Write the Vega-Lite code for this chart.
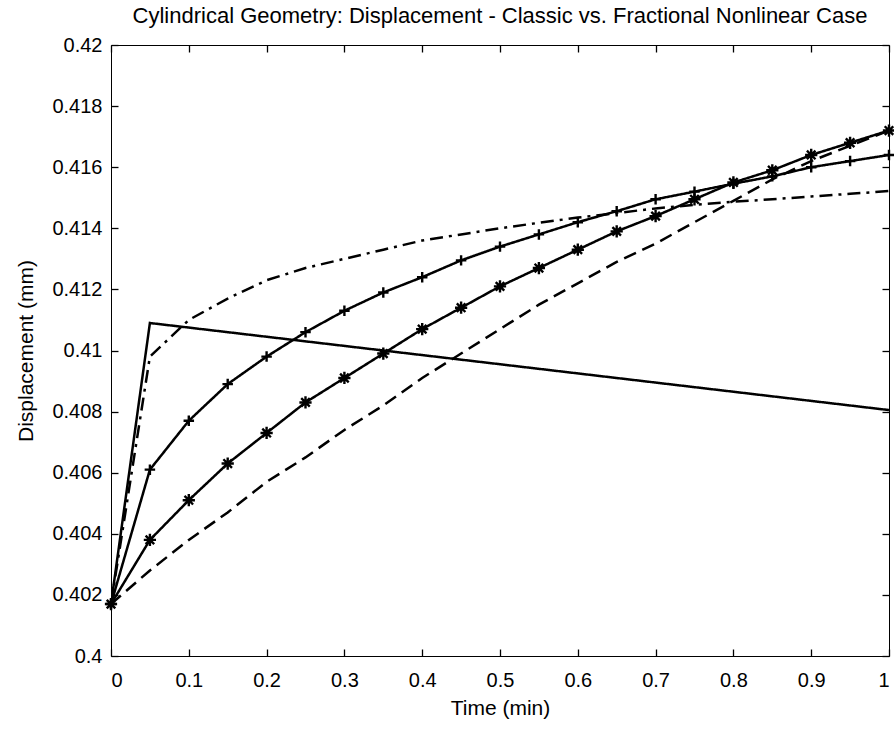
{
  "$schema": "https://vega.github.io/schema/vega-lite/v6.json",
  "width": 778,
  "height": 611,
  "autosize": {"type": "none"},
  "padding": {"left": 111, "top": 45, "right": 5, "bottom": 74},
  "background": "white",
  "title": {
    "text": "Cylindrical Geometry: Displacement - Classic vs. Fractional Nonlinear Case",
    "font": "Liberation Sans",
    "fontSize": 22,
    "fontWeight": "normal",
    "color": "black",
    "anchor": "middle",
    "offset": 7
  },
  "config": {
    "view": {"stroke": "black", "strokeWidth": 1},
    "axis": {
      "domain": false,
      "grid": false,
      "ticks": true,
      "tickColor": "black",
      "tickSize": 7,
      "offset": -7,
      "tickWidth": 1.3,
      "labelFont": "Liberation Sans",
      "labelFontSize": 20,
      "labelColor": "black",
      "titleFont": "Liberation Sans",
      "titleFontSize": 21,
      "titleFontWeight": "normal",
      "titleColor": "black"
    }
  },
  "data": {
    "values": [
      {"t": 0, "v": 0.4017, "s": "classic"},
      {"t": 0.05, "v": 0.4109, "s": "classic"},
      {"t": 1, "v": 0.40805, "s": "classic"},

      {"t": 0, "v": 0.4017, "s": "frac_plus"},
      {"t": 0.05, "v": 0.4061, "s": "frac_plus"},
      {"t": 0.1, "v": 0.4077, "s": "frac_plus"},
      {"t": 0.15, "v": 0.4089, "s": "frac_plus"},
      {"t": 0.2, "v": 0.4098, "s": "frac_plus"},
      {"t": 0.25, "v": 0.4106, "s": "frac_plus"},
      {"t": 0.3, "v": 0.4113, "s": "frac_plus"},
      {"t": 0.35, "v": 0.4119, "s": "frac_plus"},
      {"t": 0.4, "v": 0.4124, "s": "frac_plus"},
      {"t": 0.45, "v": 0.41295, "s": "frac_plus"},
      {"t": 0.5, "v": 0.4134, "s": "frac_plus"},
      {"t": 0.55, "v": 0.4138, "s": "frac_plus"},
      {"t": 0.6, "v": 0.4142, "s": "frac_plus"},
      {"t": 0.65, "v": 0.41456, "s": "frac_plus"},
      {"t": 0.7, "v": 0.41495, "s": "frac_plus"},
      {"t": 0.75, "v": 0.4152, "s": "frac_plus"},
      {"t": 0.8, "v": 0.41546, "s": "frac_plus"},
      {"t": 0.85, "v": 0.4157, "s": "frac_plus"},
      {"t": 0.9, "v": 0.416, "s": "frac_plus"},
      {"t": 0.95, "v": 0.4162, "s": "frac_plus"},
      {"t": 1, "v": 0.4164, "s": "frac_plus"},

      {"t": 0, "v": 0.4017, "s": "frac_star"},
      {"t": 0.05, "v": 0.4038, "s": "frac_star"},
      {"t": 0.1, "v": 0.4051, "s": "frac_star"},
      {"t": 0.15, "v": 0.4063, "s": "frac_star"},
      {"t": 0.2, "v": 0.4073, "s": "frac_star"},
      {"t": 0.25, "v": 0.4083, "s": "frac_star"},
      {"t": 0.3, "v": 0.4091, "s": "frac_star"},
      {"t": 0.35, "v": 0.4099, "s": "frac_star"},
      {"t": 0.4, "v": 0.4107, "s": "frac_star"},
      {"t": 0.45, "v": 0.4114, "s": "frac_star"},
      {"t": 0.5, "v": 0.4121, "s": "frac_star"},
      {"t": 0.55, "v": 0.4127, "s": "frac_star"},
      {"t": 0.6, "v": 0.4133, "s": "frac_star"},
      {"t": 0.65, "v": 0.4139, "s": "frac_star"},
      {"t": 0.7, "v": 0.4144, "s": "frac_star"},
      {"t": 0.75, "v": 0.41495, "s": "frac_star"},
      {"t": 0.8, "v": 0.4155, "s": "frac_star"},
      {"t": 0.85, "v": 0.4159, "s": "frac_star"},
      {"t": 0.9, "v": 0.4164, "s": "frac_star"},
      {"t": 0.95, "v": 0.4168, "s": "frac_star"},
      {"t": 1, "v": 0.4172, "s": "frac_star"},

      {"t": 0, "v": 0.4017, "s": "dashed"},
      {"t": 0.05, "v": 0.4028, "s": "dashed"},
      {"t": 0.1, "v": 0.4038, "s": "dashed"},
      {"t": 0.15, "v": 0.4047, "s": "dashed"},
      {"t": 0.2, "v": 0.4057, "s": "dashed"},
      {"t": 0.25, "v": 0.4065, "s": "dashed"},
      {"t": 0.3, "v": 0.4074, "s": "dashed"},
      {"t": 0.35, "v": 0.4082, "s": "dashed"},
      {"t": 0.4, "v": 0.4091, "s": "dashed"},
      {"t": 0.45, "v": 0.4099, "s": "dashed"},
      {"t": 0.5, "v": 0.4107, "s": "dashed"},
      {"t": 0.55, "v": 0.4115, "s": "dashed"},
      {"t": 0.6, "v": 0.4122, "s": "dashed"},
      {"t": 0.65, "v": 0.4129, "s": "dashed"},
      {"t": 0.7, "v": 0.4135, "s": "dashed"},
      {"t": 0.75, "v": 0.4142, "s": "dashed"},
      {"t": 0.8, "v": 0.4149, "s": "dashed"},
      {"t": 0.85, "v": 0.4156, "s": "dashed"},
      {"t": 0.9, "v": 0.4162, "s": "dashed"},
      {"t": 0.95, "v": 0.4167, "s": "dashed"},
      {"t": 1, "v": 0.4172, "s": "dashed"},

      {"t": 0, "v": 0.4017, "s": "dashdot"},
      {"t": 0.05, "v": 0.4098, "s": "dashdot"},
      {"t": 0.1, "v": 0.411, "s": "dashdot"},
      {"t": 0.15, "v": 0.4117, "s": "dashdot"},
      {"t": 0.2, "v": 0.4123, "s": "dashdot"},
      {"t": 0.25, "v": 0.4127, "s": "dashdot"},
      {"t": 0.3, "v": 0.413, "s": "dashdot"},
      {"t": 0.35, "v": 0.4133, "s": "dashdot"},
      {"t": 0.4, "v": 0.4136, "s": "dashdot"},
      {"t": 0.45, "v": 0.4138, "s": "dashdot"},
      {"t": 0.5, "v": 0.414, "s": "dashdot"},
      {"t": 0.55, "v": 0.41418, "s": "dashdot"},
      {"t": 0.6, "v": 0.41435, "s": "dashdot"},
      {"t": 0.65, "v": 0.4145, "s": "dashdot"},
      {"t": 0.7, "v": 0.41465, "s": "dashdot"},
      {"t": 0.75, "v": 0.41477, "s": "dashdot"},
      {"t": 0.8, "v": 0.41487, "s": "dashdot"},
      {"t": 0.85, "v": 0.41495, "s": "dashdot"},
      {"t": 0.9, "v": 0.41504, "s": "dashdot"},
      {"t": 0.95, "v": 0.41513, "s": "dashdot"},
      {"t": 1, "v": 0.41522, "s": "dashdot"}
    ]
  },
  "layer": [
    {
      "mark": {"type": "line", "color": "black", "strokeWidth": 2.5, "clip": true},
      "encoding": {
        "x": {
          "field": "t", "type": "quantitative",
          "scale": {"domain": [0, 1], "nice": false, "zero": false},
          "axis": {
            "orient": "bottom",
            "values": [0, 0.1, 0.2, 0.3, 0.4, 0.5, 0.6, 0.7, 0.8, 0.9, 1],
            "format": "~g",
            "labelPadding": 14,
            "title": "Time (min)",
            "titlePadding": 7
          }
        },
        "y": {
          "field": "v", "type": "quantitative",
          "scale": {"domain": [0.4, 0.42], "nice": false, "zero": false},
          "axis": {
            "orient": "left",
            "values": [0.4, 0.402, 0.404, 0.406, 0.408, 0.41, 0.412, 0.414, 0.416, 0.418, 0.42],
            "format": "~g",
            "labelPadding": 9,
            "title": "Displacement (mm)",
            "titlePadding": 15
          }
        },
        "detail": {"field": "s"},
        "strokeDash": {
          "field": "s", "type": "nominal",
          "scale": {
            "domain": ["classic", "frac_plus", "frac_star", "dashed", "dashdot"],
            "range": [[1, 0], [1, 0], [1, 0], [13, 7], [13, 6, 3, 6]]
          },
          "legend": null
        }
      }
    },
    {
      "transform": [{"filter": {"field": "s", "oneOf": ["frac_plus", "frac_star"]}}],
      "mark": {"type": "point", "filled": false, "color": "black", "strokeWidth": 2.4, "opacity": 1},
      "encoding": {
        "x": {"field": "t", "type": "quantitative", "axis": null},
        "y": {"field": "v", "type": "quantitative", "axis": null},
        "shape": {
          "field": "s", "type": "nominal",
          "scale": {
            "domain": ["frac_plus", "frac_star"],
            "range": ["M-1,0L1,0M0,-1L0,1", "M-1,0L1,0M0,-1L0,1M-0.7,-0.7L0.7,0.7M-0.7,0.7L0.7,-0.7"]
          },
          "legend": null
        },
        "size": {
          "field": "s", "type": "nominal",
          "scale": {"domain": ["frac_plus", "frac_star"], "range": [110, 150]},
          "legend": null
        }
      }
    },
    {
      "mark": {"type": "line", "opacity": 0},
      "encoding": {
        "x": {
          "field": "t", "type": "quantitative",
          "axis": {"orient": "top", "values": [0, 0.1, 0.2, 0.3, 0.4, 0.5, 0.6, 0.7, 0.8, 0.9, 1], "labels": false, "title": null}
        },
        "y": {
          "field": "v", "type": "quantitative",
          "axis": {"orient": "right", "values": [0.4, 0.402, 0.404, 0.406, 0.408, 0.41, 0.412, 0.414, 0.416, 0.418, 0.42], "labels": false, "title": null}
        },
        "detail": {"field": "s"}
      }
    }
  ],
  "resolve": {"axis": {"x": "independent", "y": "independent"}}
}
